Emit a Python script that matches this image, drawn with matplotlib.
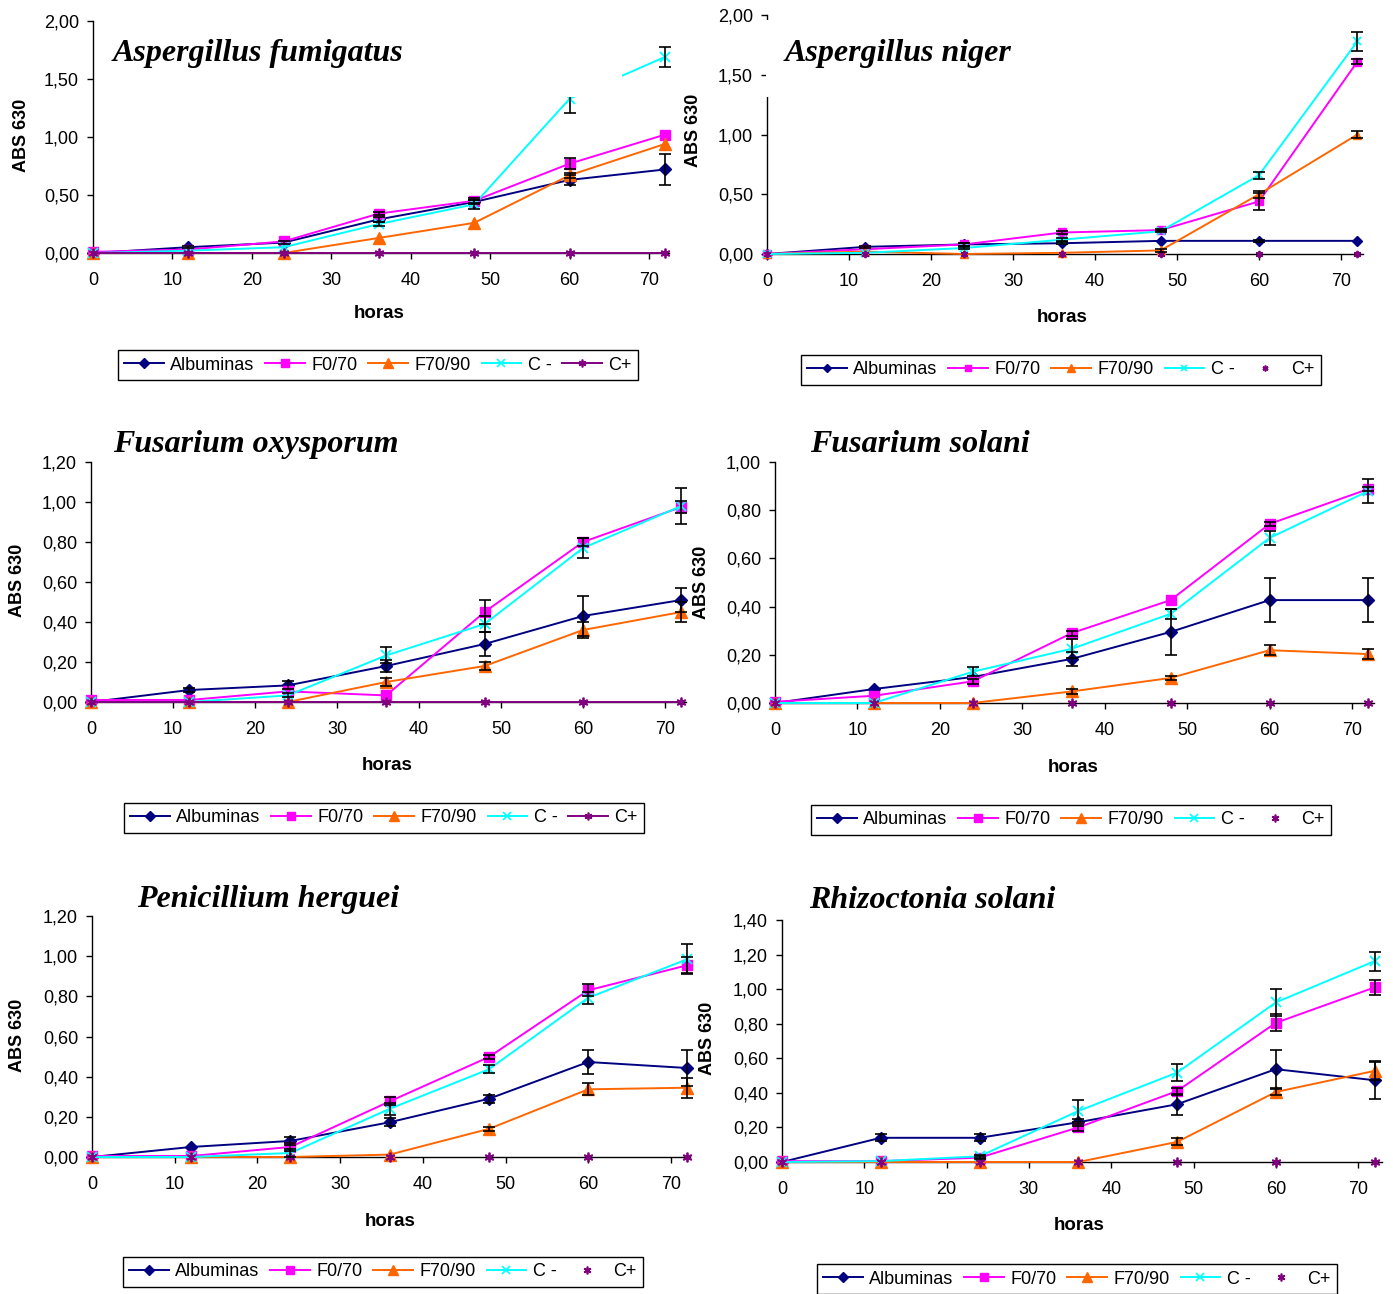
import matplotlib.pyplot as plt
from matplotlib.patches import Rectangle
from matplotlib.ticker import FuncFormatter, MultipleLocator
from matplotlib.lines import Line2D

# ── данные ──────────────────────────────────────────────────────────────────
HORAS = [0, 12, 24, 36, 48, 60, 72]
SERIES = ["Albuminas", "F0/70", "F70/90", "C -", "C+"]
ZEROS = [0, 0, 0, 0, 0, 0, 0]

# Aspergillus fumigatus
AF_VAL = [[0, 0.05, 0.09, 0.29, 0.44, 0.63, 0.72],
          [0.01, 0.03, 0.10, 0.34, 0.45, 0.77, 1.02],
          [0, 0, 0, 0.13, 0.26, 0.67, 0.94],
          [0, 0.02, 0.05, 0.25, 0.42, 1.33, 1.69],
          ZEROS]
AF_ERR = [[0, 0.01, 0.01, 0.02, 0.02, 0.04, 0.13],
          [0, 0, 0, 0.01, 0.02, 0.05, 0],
          [0, 0, 0, 0, 0, 0.02, 0],
          [0, 0, 0, 0.02, 0.04, 0.12, 0.09],
          ZEROS]

# Aspergillus niger
AN_VAL = [[0, 0.06, 0.08, 0.09, 0.11, 0.11, 0.11],
          [0, 0.04, 0.08, 0.18, 0.20, 0.44, 1.61],
          [0, 0.02, 0, 0.01, 0.03, 0.50, 1.00],
          [0, 0.01, 0.05, 0.12, 0.19, 0.66, 1.78],
          ZEROS]
AN_ERR = [[0, 0.01, 0.01, 0.01, 0, 0.01, 0],
          [0, 0, 0.01, 0.01, 0.01, 0.07, 0.02],
          [0, 0, 0, 0, 0.01, 0.03, 0.03],
          [0, 0, 0.01, 0.01, 0.01, 0.03, 0.08],
          ZEROS]

# Fusarium oxysporum
FO_VAL = [[0, 0.06, 0.083, 0.18, 0.29, 0.43, 0.51],
          [0.01, 0.01, 0.053, 0.033, 0.45, 0.80, 0.975],
          [0, 0, 0, 0.10, 0.18, 0.36, 0.45],
          [0, 0, 0.033, 0.233, 0.39, 0.77, 0.98],
          ZEROS]
FO_ERR = [[0, 0.01, 0.02, 0.03, 0.06, 0.10, 0.06],
          [0, 0, 0, 0, 0.06, 0.02, 0.03],
          [0, 0, 0, 0.02, 0.02, 0.04, 0.05],
          [0, 0, 0.01, 0.04, 0.04, 0.05, 0.09],
          ZEROS]

# Fusarium solani
FS_VAL = [[0, 0.058, 0.108, 0.183, 0.295, 0.427, 0.427],
          [0.005, 0.03, 0.09, 0.29, 0.427, 0.743, 0.888],
          [0, 0, 0, 0.048, 0.104, 0.219, 0.203],
          [0, 0, 0.13, 0.225, 0.37, 0.685, 0.88],
          ZEROS]
FS_ERR = [[0, 0, 0, 0.03, 0.095, 0.09, 0.09],
          [0, 0, 0.01, 0.01, 0, 0.01, 0.01],
          [0, 0, 0, 0.01, 0.01, 0.02, 0.02],
          [0, 0, 0.02, 0.04, 0.02, 0.03, 0.05],
          ZEROS]

# Penicillium herguei
PH_VAL = [[0, 0.05, 0.08, 0.173, 0.29, 0.473, 0.443],
          [0.005, 0.005, 0.05, 0.277, 0.498, 0.83, 0.955],
          [0, 0, 0, 0.012, 0.14, 0.337, 0.345],
          [0, 0, 0.02, 0.24, 0.437, 0.793, 0.985],
          ZEROS]
PH_ERR = [[0, 0, 0.02, 0.02, 0.02, 0.06, 0.09],
          [0, 0, 0.02, 0.02, 0.01, 0.03, 0.04],
          [0, 0, 0, 0, 0.01, 0.03, 0.05],
          [0, 0, 0.02, 0.03, 0.02, 0.03, 0.075],
          ZEROS]

# Rhizoctonia solani
RS_VAL = [[0, 0.14, 0.14, 0.23, 0.334, 0.537, 0.473],
          [0.005, 0.005, 0.025, 0.20, 0.41, 0.805, 1.01],
          [0, 0, 0, 0, 0.116, 0.405, 0.527],
          [0, 0.005, 0.033, 0.295, 0.517, 0.923, 1.162],
          ZEROS]
RS_ERR = [[0, 0.02, 0.02, 0.02, 0.06, 0.11, 0.11],
          [0, 0, 0.01, 0.02, 0.02, 0.05, 0.045],
          [0, 0, 0, 0, 0.02, 0.02, 0.05],
          [0, 0, 0.01, 0.065, 0.05, 0.08, 0.055],
          ZEROS]

# ── стиль ───────────────────────────────────────────────────────────────────
COLORS = ["#000080", "#FF00FF", "#FF6600", "#00FFFF", "#800080"]
MARKERS = ["D", "s", "^", "x", (6, 2, 0)]
MSIZE = [6.5, 7, 8.5, 7, 7]
SANS = "Liberation Sans"
SERIF = "Liberation Serif"

W, H = 1393, 1294
fig = plt.figure(figsize=(W / 100, H / 100), dpi=100, facecolor="white")

fmt = FuncFormatter(lambda v, p: f"{v:.2f}".replace(".", ","))


def panel(vals, errs, title, box, xmax, ymax, ystep, title_xy, ylab_xy,
          horas_xy, leg_xy, cplus_line=True, small=False, cover=None):
    x0, ytop, ybot, pxh = box
    x1 = x0 + xmax * pxh
    ax = fig.add_axes([x0 / W, 1 - ybot / H, (x1 - x0) / W, (ybot - ytop) / H])
    ax.set_xlim(0, xmax)
    ax.set_ylim(0, ymax)
    for s in ["top", "right"]:
        ax.spines[s].set_visible(False)
    for s in ["left", "bottom"]:
        ax.spines[s].set_linewidth(1.0)
    ax.xaxis.set_major_locator(MultipleLocator(10))
    ax.yaxis.set_major_locator(MultipleLocator(ystep))
    ax.yaxis.set_major_formatter(fmt)
    ax.tick_params(direction="out", length=4, width=1, labelsize=13)
    ax.tick_params(axis="x", pad=10)
    ax.tick_params(axis="y", pad=6)
    for lab in ax.get_xticklabels() + ax.get_yticklabels():
        lab.set_fontfamily(SANS)

    handles = []
    k = 0.75 if small else 1.0
    for i, (name, y, e) in enumerate(zip(SERIES, vals, errs)):
        ls = "-" if (i < 4 or cplus_line) else "none"
        ax.plot(HORAS, y, color=COLORS[i], lw=1.4, ls=ls, marker=MARKERS[i],
                ms=MSIZE[i] * k, mew=1.3 if i >= 3 else 1, clip_on=False,
                zorder=3)
        xe = [h for h, v in zip(HORAS, e) if v > 0]
        ye = [yy for yy, v in zip(y, e) if v > 0]
        ee = [v for v in e if v > 0]
        if xe:
            ax.errorbar(xe, ye, yerr=ee, fmt="none", ecolor="black",
                        elinewidth=1.2, capsize=4, capthick=1.2, zorder=4,
                        clip_on=False)
        handles.append(Line2D([], [], color=COLORS[i], lw=1.4, ls=ls,
                              marker=MARKERS[i], ms=MSIZE[i] * 0.8 * k,
                              mew=1.2 if i >= 3 else 1))

    if cover is not None:
        cx, cy, cw, ch = cover
        ax.add_patch(Rectangle((cx, cy), cw, ch, facecolor="white",
                               edgecolor="none", zorder=6, clip_on=False))

    fig.text(title_xy[0] / W, 1 - title_xy[1] / H, title, fontfamily=SERIF,
             fontweight="bold", fontstyle="italic", fontsize=23,
             ha="left", va="center", zorder=10)
    fig.text(ylab_xy[0] / W, 1 - ylab_xy[1] / H, "ABS 630", fontfamily=SANS,
             fontweight="bold", fontsize=13, rotation=90,
             ha="center", va="center")
    fig.text(horas_xy[0] / W, 1 - horas_xy[1] / H, "horas", fontfamily=SANS,
             fontweight="bold", fontsize=13.5, ha="center", va="center")
    leg = fig.legend(handles, SERIES, loc="center",
                     bbox_to_anchor=(leg_xy[0] / W, 1 - leg_xy[1] / H),
                     ncol=5, frameon=True, fancybox=False, framealpha=1,
                     edgecolor="black", prop={"family": SANS, "size": 13},
                     handlelength=2.2, handletextpad=0.35,
                     columnspacing=0.6, borderpad=0.35)
    leg.get_frame().set_linewidth(1.0)
    return ax


panel(AF_VAL, AF_ERR, "Aspergillus fumigatus", (93, 21, 253, 7.943),
      72.5, 2.0, 0.5, (113, 53), (22, 135), (379, 314), (378, 365),
      cover=(0.4, 1.345, 66.2, 0.655))
panel(AN_VAL, AN_ERR, "Aspergillus niger", (767, 15, 254, 8.2),
      72.7, 2.0, 0.5, (785, 53), (693, 130), (1062, 317), (1061, 370),
      cplus_line=False, small=True, cover=(-0.15, 1.31, 30, 0.65))
panel(FO_VAL, FO_ERR, "Fusarium oxysporum", (91, 462, 702, 8.2),
      72.6, 1.2, 0.2, (113, 444), (17, 580), (387, 766), (384, 818))
panel(FS_VAL, FS_ERR, "Fusarium solani", (775, 462, 703, 8.243),
      72.7, 1.0, 0.2, (810, 444), (702, 582), (1073, 767), (1071, 820),
      cplus_line=False)
panel(PH_VAL, PH_ERR, "Penicillium herguei", (92, 916, 1157, 8.27),
      72.3, 1.2, 0.2, (137, 900), (18, 1035), (390, 1221), (383, 1272),
      cplus_line=False)
panel(RS_VAL, RS_ERR, "Rhizoctonia solani", (782, 920, 1162, 8.23),
      72.9, 1.4, 0.2, (809, 900), (707, 1038), (1079, 1225), (1077, 1279),
      cplus_line=False)

plt.savefig("out.png", dpi=100, facecolor="white")
